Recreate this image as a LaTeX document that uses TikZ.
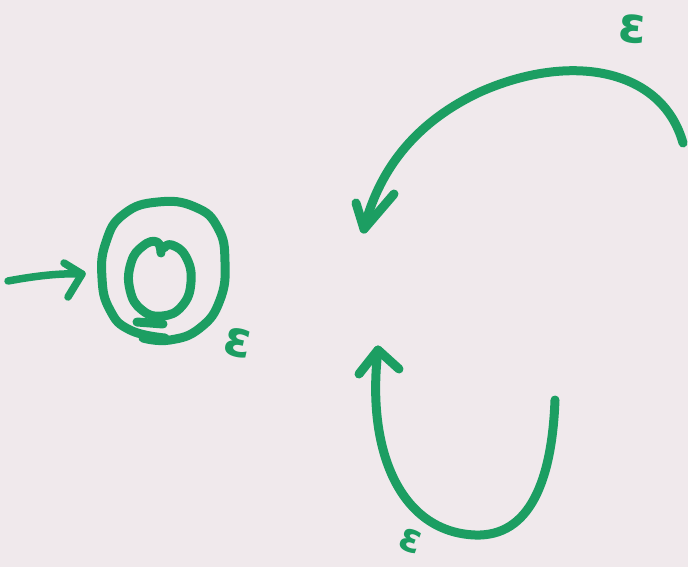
\documentclass[tikz,border=0pt]{standalone}
\usepackage{fontspec}
\newfontfamily\labelfont{DejaVu Sans}[BoldFont={DejaVu Sans Bold}]
\definecolor{paper}{RGB}{240,233,236}
\definecolor{marker}{RGB}{28,158,98}
\tikzset{
  pen/.style={draw=marker, line width=9pt, line cap=round, line join=round},
  thinpen/.style={draw=marker, line width=7.5pt, line cap=round, line join=round},
  eps/.style={text=marker, font=\labelfont\bfseries\fontsize{50}{54}\selectfont, inner sep=0pt}
}
\begin{document}
\begin{tikzpicture}[x=1pt, y=-1pt]
  \fill[paper] (0,0) rectangle (688,567);
  \useasboundingbox (0,0) rectangle (688,567);

  % start arrow into the accepting state
  \coordinate (in0) at (8,281);
  \coordinate (in1) at (82,274);
  \draw[thinpen] (in0) .. controls (35,276) and (60,273) .. (in1);
  \draw[thinpen] (64,263) -- (in1) -- (68,297);

  % accepting state: outer ring with its overlapping end stroke
  \draw[pen] plot[smooth, tension=0.8] coordinates {
    (165,338) (130,330) (110,310) (102,278) (106,242) (124,214) (158,202)
    (195,207) (218,228) (225,262) (220,300) (200,328) (170,340) (143,338)};
  % inner ring with its small starting hook and tail
  \draw[pen] plot[smooth, tension=0.8] coordinates {
    (161,253) (157,242) (143,246) (131,263) (130,290) (142,310) (162,316)
    (182,306) (191,282) (186,257) (172,245) (164,248)};
  \draw[pen] (137,322) -- (163,324);
  \node[eps, rotate=-12] (e1) at (238,343) {ε};

  % upper transition, ending in an arrowhead
  \coordinate (a0) at (683,143);
  \coordinate (a1) at (364,229);
  \draw[pen] (a0) .. controls (662,68) and (570,52) .. (480,92)
                 .. controls (420,120) and (380,165) .. (a1);
  \draw[pen] (356,203) -- (a1) -- (394,194);
  \node[eps, rotate=-5] (e2) at (633,29) {ε};

  % lower transition, ending in an arrowhead
  \coordinate (b0) at (555,400);
  \coordinate (b1) at (378,350);
  \draw[pen] (b0) .. controls (552,480) and (530,537) .. (475,535)
                 .. controls (400,532) and (366,450) .. (b1);
  \draw[pen] (359,374) -- (b1) -- (399,369);
  \node[eps, rotate=-20, font=\labelfont\bfseries\fontsize{40}{44}\selectfont] (e3) at (411,541) {ε};
\end{tikzpicture}
\end{document}
